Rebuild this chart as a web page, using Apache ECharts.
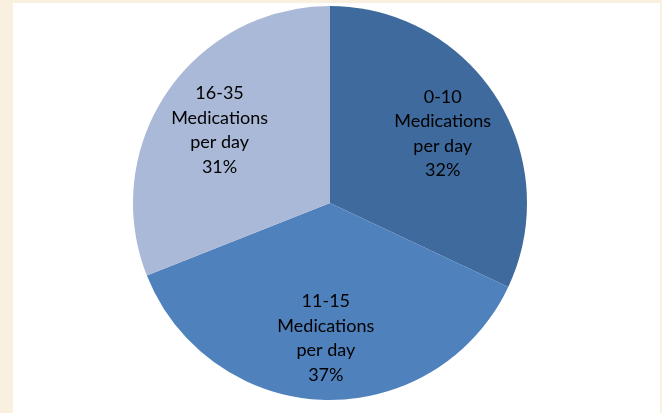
<!DOCTYPE html>
<html><head><meta charset="utf-8">
<script src="https://cdn.jsdelivr.net/npm/echarts@6/dist/echarts.min.js"></script>
<style>
html,body{margin:0;padding:0;background:#FAF0E0;}
#wrap{position:absolute;left:13px;top:3px;width:647px;height:410px;background:#fff;}
#chart{position:absolute;left:0;top:0;width:662px;height:413px;}
</style></head>
<body><div id="wrap"></div><div id="chart"></div>
<script>
const categories = ['0-10\nMedications\nper day', '11-15\nMedications\nper day', '16-35\nMedications\nper day'];
const values = [32, 37, 31];
const colors = ['#3F6A9D', '#4F81BD', '#AAB9D8'];

const data = categories.map((c, i) => ({ name: c, value: values[i], itemStyle: { color: colors[i] } }));
const chart = echarts.init(document.getElementById('chart'), null, { renderer: 'canvas' });
chart.setOption({
  backgroundColor: 'transparent',
  animation: false,
  series: [
    {
      type: 'pie', center: [330, 203], radius: [0, 197], startAngle: 90, clockwise: true,
      label: { show: false }, labelLine: { show: false }, silent: true,
      data: data
    },
    {
      type: 'pie', center: [330, 205], radius: [64, 197], startAngle: 90, clockwise: true,
      silent: true,
      itemStyle: { color: 'transparent' },
      labelLine: { show: false },
      label: {
        show: true, position: 'inside', color: '#000',
        fontFamily: 'Lato, "Open Sans", sans-serif', fontSize: 18, lineHeight: 24.5,
        formatter: p => p.name + '\n' + p.value + '%'
      },
      data: categories.map((c, i) => ({ name: c, value: values[i], itemStyle: { color: 'transparent' } }))
    }
  ]
});
</script></body></html>
